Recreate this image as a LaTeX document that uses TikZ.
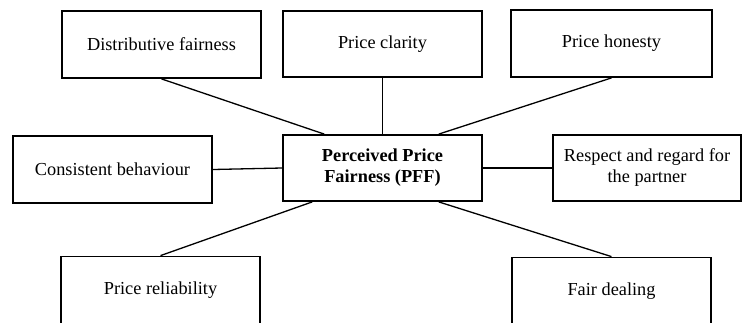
\documentclass[tikz,border=0pt]{standalone}
\usepackage{fontspec}
\setmainfont{Liberation Serif}
\usetikzlibrary{calc}
\tikzset{
  factorbox/.style={draw=black, line width=1.8pt, fill=white, align=center,
    minimum width=199pt, minimum height=67pt, inner sep=2pt,
    font=\fontsize{18.3}{21}\selectfont},
  corebox/.style={factorbox, font=\fontsize{18.3}{21}\selectfont\bfseries},
  factorlink/.style={line width=1.3pt, draw=black}
}
\begin{document}
\begin{tikzpicture}[x=1pt, y=-1pt]
  \clip (0,0) rectangle (744,322);
  \fill[white] (0,0) rectangle (744,322);

  % central construct
  \node[corebox, minimum height=66pt] (pff) at (382.5,168) {Perceived Price\\Fairness (PFF)};

  % dimensions
  \node[factorbox] (dist) at (161.5,44.5) {Distributive fairness};
  \node[factorbox, minimum height=66pt] (clar) at (382.5,44) {Price clarity};
  \node[factorbox, minimum width=201pt] (hon) at (611.5,43.5) {Price honesty};
  \node[factorbox] (cons) at (112.5,169.5) {Consistent behaviour};
  \node[factorbox, minimum width=188pt, minimum height=66pt] (resp) at (647,168) {Respect and regard for\\the partner};
  \node[factorbox] (rel) at (160.5,290) {Price reliability};
  \node[factorbox] (fair) at (611.5,291) {Fair dealing};

  \draw[factorlink] (dist.south) -- ($(pff.north west)!0.21!(pff.north east)$);
  \draw[factorlink] (clar.south) -- (pff.north);
  \draw[factorlink] (hon.south) -- ($(pff.north west)!0.78!(pff.north east)$);
  \draw[factorlink] (cons.east) -- (pff.west);
  \draw[factorlink] (pff.east) -- (resp.west);
  \draw[factorlink] ($(pff.south west)!0.15!(pff.south east)$) -- (rel.north);
  \draw[factorlink] ($(pff.south west)!0.78!(pff.south east)$) -- (fair.north);
\end{tikzpicture}
\end{document}
